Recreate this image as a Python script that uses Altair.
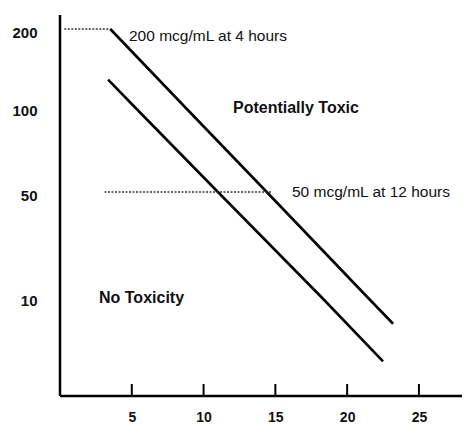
import altair as alt
import pandas as pd

# --- data ---
upper_hours = [3.5, 8.7, 14.4, 21.4, 23.2]
upper_conc = [200, 100, 50, 10, 7.3]
lower_hours = [3.35, 5.2, 11.0, 18.2, 22.5]
lower_conc = [135, 100, 50, 10, 3.5]

ref200_hours = [0.3, 3.5]
ref200_conc = [200, 200]
ref50_hours = [3.1, 14.8]
ref50_conc = [50, 50]

x_ticks = [5, 10, 15, 20, 25]
y_ticks = [10, 50, 100, 200]

label_200 = "200 mcg/mL at 4 hours"
label_50 = "50 mcg/mL at 12 hours"
label_toxic = "Potentially Toxic"
label_none = "No Toxicity"

W, H = 402, 381
FONT = "Liberation Sans"

lines_df = pd.DataFrame({
    "hours": upper_hours + lower_hours,
    "conc": upper_conc + lower_conc,
    "series": ["upper"] * len(upper_hours) + ["lower"] * len(lower_hours),
})
refs_df = pd.DataFrame({
    "hours": ref200_hours + ref50_hours,
    "conc": ref200_conc + ref50_conc,
    "series": ["r200"] * 2 + ["r50"] * 2,
})
ticks_df = pd.DataFrame({"t": x_ticks})

xscale = alt.Scale(domain=[0, 28], nice=False, zero=False)
yscale = alt.Scale(type="linear", domain=[0, 10, 50, 100, 200],
                   range=[381, 282, 177, 92, 14], nice=False, zero=False)

xaxis = alt.Axis(values=x_ticks, domain=False, ticks=False, tickSize=0, grid=False,
                 labelFont=FONT, labelFontSize=14, labelFontWeight="bold",
                 labelColor="#111", labelPadding=14, title=None)
yaxis = alt.Axis(values=y_ticks, domain=False, ticks=False, tickSize=0, grid=False,
                 labelFont=FONT, labelFontSize=15, labelFontWeight="bold",
                 labelColor="#111", labelPadding=23, labelOffset=3, title=None)

lines = alt.Chart(lines_df).mark_line(color="#000", strokeWidth=2.6).encode(
    x=alt.X("hours:Q", scale=xscale, axis=xaxis),
    y=alt.Y("conc:Q", scale=yscale, axis=yaxis),
    detail="series:N",
)

refs = alt.Chart(refs_df).mark_line(color="#333", strokeWidth=1.6, strokeDash=[2, 1.5]).encode(
    x=alt.X("hours:Q", scale=xscale),
    y=alt.Y("conc:Q", scale=yscale),
    detail="series:N",
)

tick_marks = alt.Chart(ticks_df).mark_rule(color="#000", strokeWidth=2).encode(
    x=alt.X("t:Q", scale=xscale),
    y=alt.value(H - 12),
    y2=alt.value(H),
)

one = alt.Data(values=[{"a": 1}])
yline = alt.Chart(one).mark_rule(color="#000", strokeWidth=2.5).encode(
    x=alt.value(0), y=alt.value(0), y2=alt.value(H))
xline = alt.Chart(one).mark_rule(color="#000", strokeWidth=2.5).encode(
    x=alt.value(0), x2=alt.value(W), y=alt.value(H))

def txt(t, x, y, size, weight):
    return alt.Chart(one).mark_text(
        text=t, align="left", baseline="alphabetic", font=FONT,
        fontSize=size, fontWeight=weight, color="#111",
    ).encode(x=alt.value(x), y=alt.value(y))

texts = [
    txt(label_200, 69, 26, 15.5, "normal"),
    txt(label_50, 232, 182, 15.5, "normal"),
    txt(label_toxic, 173, 98, 16, "bold"),
    txt(label_none, 39, 288, 16, "bold"),
]

chart = alt.layer(lines, refs, tick_marks, yline, xline, *texts).properties(
    width=W, height=H,
    padding={"left": 52, "top": 7, "right": 0, "bottom": 27},
    autosize=alt.AutoSizeParams(type="none"),
    background="white",
).configure_view(stroke=None)

chart.save("out.html", embed_options={"renderer": "svg", "actions": False})
